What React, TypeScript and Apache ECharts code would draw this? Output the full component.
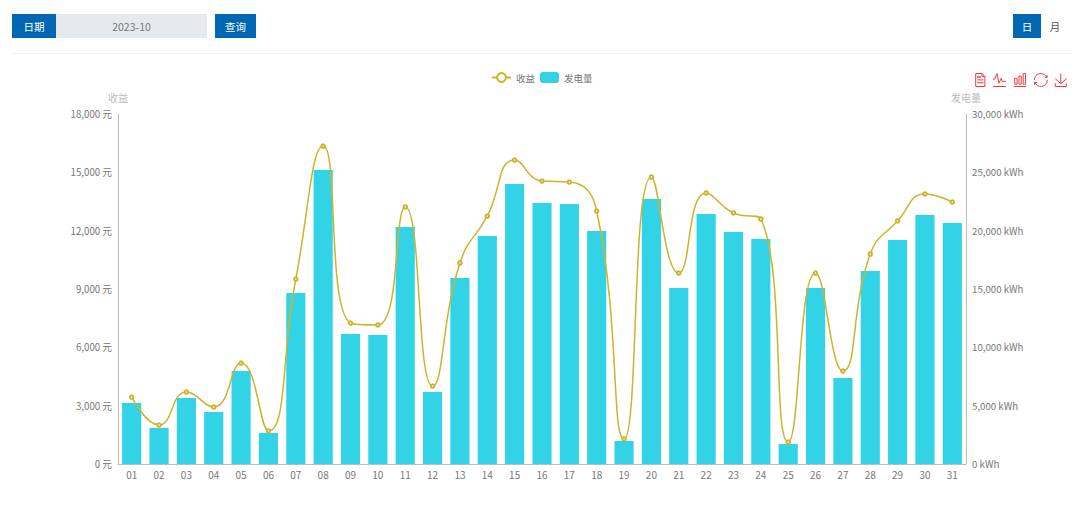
import React, { useEffect, useRef } from "react";
import * as echarts from "echarts";

const days = ["01","02","03","04","05","06","07","08","09","10","11","12","13","14","15","16","17","18","19","20","21","22","23","24","25","26","27","28","29","30","31"];
const income = [3445,2005,3700,2930,5190,1700,9510,16350,7250,7150,13220,4010,10340,12750,15630,14550,14500,13010,1290,14760,9820,13940,12910,12600,1130,9820,4780,10800,12500,13890,13470];
const generation = [5230,3090,5660,4460,7970,2660,14660,25200,11140,11060,20310,6170,15940,19540,24000,22370,22290,19970,1970,22710,15090,21430,19890,19290,1710,15090,7370,16540,19200,21340,20660];

const FONT = '"Noto Sans CJK SC", "Noto Sans", sans-serif';
const fmt = (v: number) => v.toLocaleString("en-US");

const btn: React.CSSProperties = {
  position: "absolute", background: "#0068b3", color: "#fff", fontSize: 10.5,
  display: "flex", alignItems: "center", justifyContent: "center", height: 24, top: 14,
};

export default function App() {
  const ref = useRef<HTMLDivElement>(null);
  useEffect(() => {
    document.body.style.margin = "0";
    const chart = echarts.init(ref.current!, undefined, { renderer: "svg" });
    chart.setOption({
      animation: false,
      textStyle: { fontFamily: FONT },
      legend: {
        top: 67, left: 486, itemWidth: 19, itemHeight: 11, itemGap: 5,
        textStyle: { fontSize: 9.5, color: "#777", fontFamily: FONT },
        data: ["收益", "发电量"],
      },
      toolbox: {
        show: true, right: -4, top: 56, itemSize: 13, itemGap: 3,
        iconStyle: { borderColor: "#f03a3e", color: "none", borderWidth: 1 },
        feature: {
          dataView: { show: true, readOnly: true },
          magicType: { show: true, type: ["line", "bar"] },
          restore: { show: true },
          saveAsImage: { show: true },
        },
      },
      grid: { left: 118, right: 114, top: 114, bottom: 54 },
      xAxis: {
        type: "category", data: days,
        axisLine: { lineStyle: { color: "#bbb" } },
        axisTick: { lineStyle: { color: "#bbb" } },
        axisLabel: { fontSize: 10, color: "#777", margin: 5, fontFamily: FONT },
      },
      yAxis: [
        {
          type: "value", name: "收益", min: 0, max: 18000, interval: 3000,
          nameGap: 12, nameTextStyle: { fontSize: 10, color: "#bbb", fontFamily: FONT },
          axisLine: { show: true, lineStyle: { color: "#bbb" } }, axisTick: { show: false },
          splitLine: { show: false },
          axisLabel: { fontSize: 9.7, color: "#777", margin: 6, fontFamily: FONT, formatter: (v: number) => `${fmt(v)} 元` },
        },
        {
          type: "value", name: "发电量", min: 0, max: 30000, interval: 5000,
          nameGap: 12, nameTextStyle: { fontSize: 10, color: "#bbb", fontFamily: FONT },
          axisLine: { show: true, lineStyle: { color: "#bbb" } }, axisTick: { show: false },
          splitLine: { show: false },
          axisLabel: { fontSize: 9.7, color: "#777", margin: 6, fontFamily: FONT, formatter: (v: number) => `${fmt(v)} kWh` },
        },
      ],
      series: [
        {
          name: "收益", type: "line", yAxisIndex: 0, data: income, smooth: true, z: 3,
          symbol: "emptyCircle", symbolSize: 3.5,
          itemStyle: { color: "#cdb32c", borderWidth: 1 }, lineStyle: { color: "#cdb32c", width: 1.5 },
        },
        {
          name: "发电量", type: "bar", yAxisIndex: 1, data: generation, barWidth: "70%", z: 2,
          itemStyle: { color: "#32d3e6" },
        },
      ],
    });
    return () => chart.dispose();
  }, []);
  return (
    <div style={{ position: "absolute", left: 0, top: 0, width: 1080, height: 518, background: "#fff", fontFamily: FONT, overflow: "hidden" }}>
      <div ref={ref} style={{ position: "absolute", left: 0, top: 0, width: 1080, height: 518 }} />
      <div style={{ ...btn, left: 12, width: 44 }}>日期</div>
      <div style={{ ...btn, left: 56, width: 151, background: "#e7eaed", color: "#777" }}>2023-10</div>
      <div style={{ ...btn, left: 215, width: 41 }}>查询</div>
      <div style={{ ...btn, left: 1013, width: 28 }}>日</div>
      <div style={{ ...btn, left: 1041, width: 28, background: "#fff", color: "#555" }}>月</div>
      <div style={{ position: "absolute", left: 12, top: 53, width: 1060, height: 1, background: "#f2f2f2" }} />
    </div>
  );
}
